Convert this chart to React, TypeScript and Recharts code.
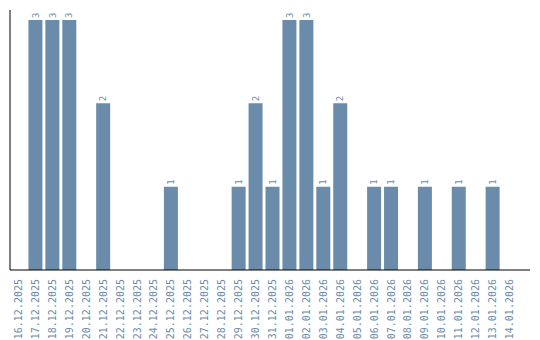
import { BarChart, Bar, XAxis, YAxis, LabelList } from "recharts";

const dates = [
  "16.12.2025", "17.12.2025", "18.12.2025", "19.12.2025", "20.12.2025",
  "21.12.2025", "22.12.2025", "23.12.2025", "24.12.2025", "25.12.2025",
  "26.12.2025", "27.12.2025", "28.12.2025", "29.12.2025", "30.12.2025",
  "31.12.2025", "01.01.2026", "02.01.2026", "03.01.2026", "04.01.2026",
  "05.01.2026", "06.01.2026", "07.01.2026", "08.01.2026", "09.01.2026",
  "10.01.2026", "11.01.2026", "12.01.2026", "13.01.2026", "14.01.2026",
];

const counts = [
  0, 3, 3, 3, 0, 2, 0, 0, 0, 1,
  0, 0, 0, 1, 2, 1, 3, 3, 1, 2,
  0, 1, 1, 0, 1, 0, 1, 0, 1, 0,
];

const data = dates.map((d, i) => ({ date: d, count: counts[i] }));

const BAR = "#6a8caa";
const MONO = "'DejaVu Sans Mono', monospace";

function DateTick(props: any) {
  const { x, y, payload } = props;
  const ty = y + 1;
  return (
    <text
      x={x}
      y={ty}
      transform={`rotate(-90, ${x}, ${ty})`}
      textAnchor="end"
      dy="0.35em"
      fill={BAR}
      fontSize={10}
      fontFamily={MONO}
    >
      {payload.value}
    </text>
  );
}

function ValueLabel(props: any) {
  const { x, y, width, value } = props;
  if (!value) return null;
  const cx = x + width / 2;
  const cy = y - 2;
  return (
    <text
      x={cx}
      y={cy}
      transform={`rotate(-90, ${cx}, ${cy})`}
      textAnchor="start"
      dy="0.35em"
      fill={BAR}
      fontSize={9}
      fontFamily={MONO}
    >
      {value}
    </text>
  );
}

export default function App() {
  return (
    <div style={{ position: "absolute", left: 0, top: 0, background: "#fff" }}>
      <BarChart
        width={540}
        height={340}
        data={data}
        margin={{ top: 10, right: 10, left: 0, bottom: 0 }}
        barCategoryGap={1.5}
      >
        <XAxis
          dataKey="date"
          interval={0}
          height={70}
          tick={<DateTick />}
          tickLine={false}
          axisLine={{ stroke: "#000", strokeWidth: 1 }}
          padding={{ left: 0, right: 12 }}
        />
        <YAxis
          width={10}
          domain={[0, 3.12]}
          tick={false}
          tickLine={false}
          axisLine={{ stroke: "#000", strokeWidth: 1 }}
        />
        <Bar dataKey="count" fill={BAR} isAnimationActive={false}>
          <LabelList dataKey="count" content={<ValueLabel />} />
        </Bar>
      </BarChart>
    </div>
  );
}
